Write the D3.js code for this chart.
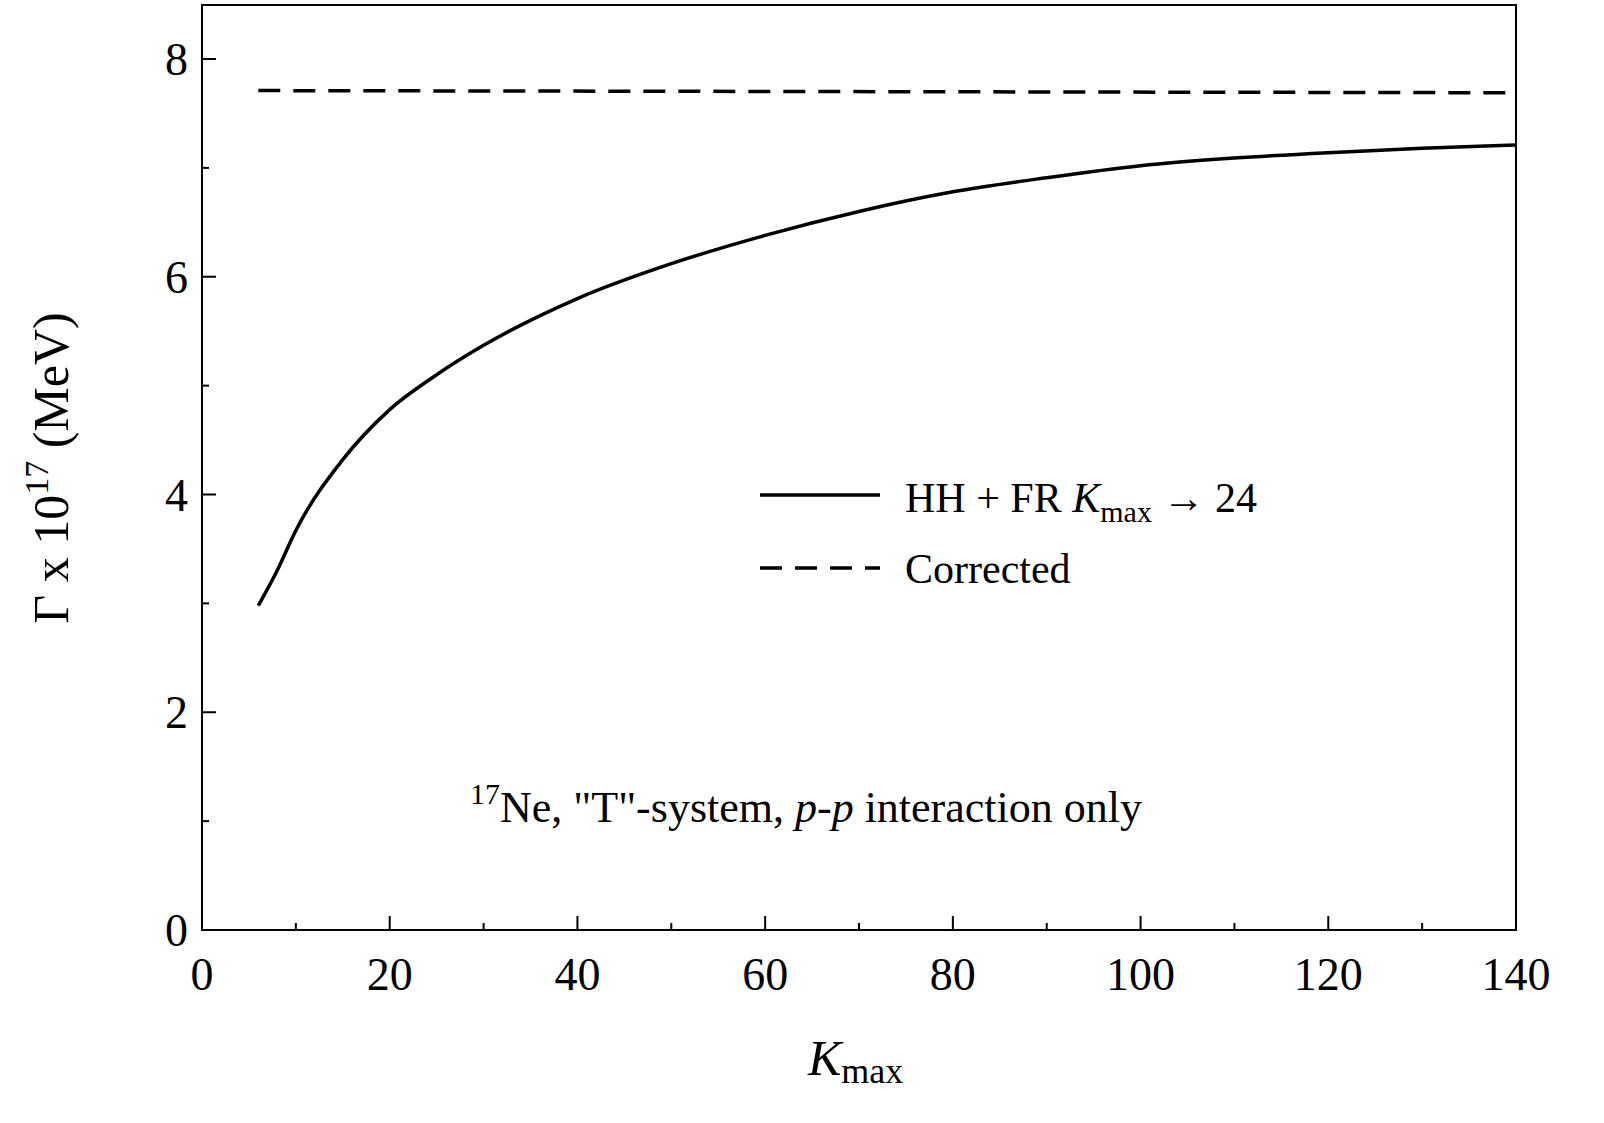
<!DOCTYPE html>
<html><head><meta charset="utf-8">
<script src="https://cdn.jsdelivr.net/npm/d3@7"></script>
<style>body{margin:0;background:#fff}text{font-family:"Liberation Serif","Times New Roman",serif}</style>
</head><body><svg id="c" width="1604" height="1123"></svg>
<script>
const kmax = [6, 8, 10, 15, 20, 25, 30, 40, 50, 60, 70, 80, 90, 100, 110, 120, 130, 140];
const gammaHH = [2.98, 3.3, 3.67, 4.32, 4.78, 5.1, 5.37, 5.80, 6.12, 6.38, 6.60, 6.78, 6.91, 7.02, 7.09, 7.14, 7.18, 7.21];
const corrX = [6, 140];
const corrY = [7.71, 7.69];
const xTicks = [0, 20, 40, 60, 80, 100, 120, 140];
const yTicks = [0, 2, 4, 6, 8];

const svg = d3.select("#c");
const x = d3.scaleLinear().domain([0, 140]).range([202, 1516]);
const y = d3.scaleLinear().domain([0, 8]).range([930, 59]);
const frameTop = 5;

svg.append("rect").attr("x", 202).attr("y", frameTop).attr("width", 1314).attr("height", 930 - frameTop)
  .attr("fill", "none").attr("stroke", "#000").attr("stroke-width", 2);

// ticks (inward)
const g = svg.append("g").attr("stroke", "#000").attr("stroke-width", 2);
d3.range(0, 141, 10).forEach(v => {
  const L = v % 20 === 0 ? 14 : 7;
  g.append("line").attr("x1", x(v)).attr("x2", x(v)).attr("y1", 930).attr("y2", 930 - L);
});
d3.range(0, 9, 1).forEach(v => {
  const L = v % 2 === 0 ? 14 : 7;
  g.append("line").attr("x1", 202).attr("x2", 202 + L).attr("y1", y(v)).attr("y2", y(v));
});
xTicks.forEach(v => svg.append("text").attr("x", x(v)).attr("y", 990).attr("text-anchor", "middle")
  .attr("font-size", 46).text(v));
yTicks.forEach(v => svg.append("text").attr("x", 188).attr("y", y(v) + 16).attr("text-anchor", "end")
  .attr("font-size", 46).text(v));

const line = d3.line().x(d => x(d[0])).y(d => y(d[1])).curve(d3.curveMonotoneX);
svg.append("path").datum(kmax.map((k, i) => [k, gammaHH[i]])).attr("d", line)
  .attr("fill", "none").attr("stroke", "#000").attr("stroke-width", 3.5);
svg.append("path").datum(corrX.map((k, i) => [k, corrY[i]])).attr("d", line)
  .attr("fill", "none").attr("stroke", "#000").attr("stroke-width", 3.5).attr("stroke-dasharray", "22,13");

// legend
svg.append("line").attr("x1", 760).attr("x2", 880).attr("y1", 495).attr("y2", 495).attr("stroke", "#000").attr("stroke-width", 3.5);
svg.append("line").attr("x1", 760).attr("x2", 880).attr("y1", 568).attr("y2", 568).attr("stroke", "#000").attr("stroke-width", 3.5).attr("stroke-dasharray", "22,13");
const t1 = svg.append("text").attr("x", 905).attr("y", 512).attr("font-size", 42);
t1.append("tspan").text("HH + FR  ");
t1.append("tspan").attr("font-style", "italic").text("K");
t1.append("tspan").attr("font-size", 30).attr("dy", 10).text("max");
t1.append("tspan").attr("dy", -10).text("  \u2192  24");
svg.append("text").attr("x", 905).attr("y", 583).attr("font-size", 42).text("Corrected");

const t2 = svg.append("text").attr("x", 470).attr("y", 822).attr("font-size", 44);
t2.append("tspan").attr("font-size", 30).attr("dy", -18).text("17");
t2.append("tspan").attr("dy", 18).text("Ne, \"T\"-system,  ");
t2.append("tspan").attr("font-style", "italic").text("p-p");
t2.append("tspan").text(" interaction only");

// axis titles
const xt = svg.append("text").attr("x", 808).attr("y", 1075).attr("font-size", 50);
xt.append("tspan").attr("font-style", "italic").text("K");
xt.append("tspan").attr("font-size", 36).attr("dy", 8).text("max");

const yt = svg.append("text").attr("transform", "translate(68,468) rotate(-90)").attr("text-anchor", "middle").attr("font-size", 50);
yt.append("tspan").text("\u0393 x 10");
yt.append("tspan").attr("font-size", 34).attr("dy", -20).text("17");
yt.append("tspan").attr("dy", 20).text("  (MeV)");
</script></body></html>
